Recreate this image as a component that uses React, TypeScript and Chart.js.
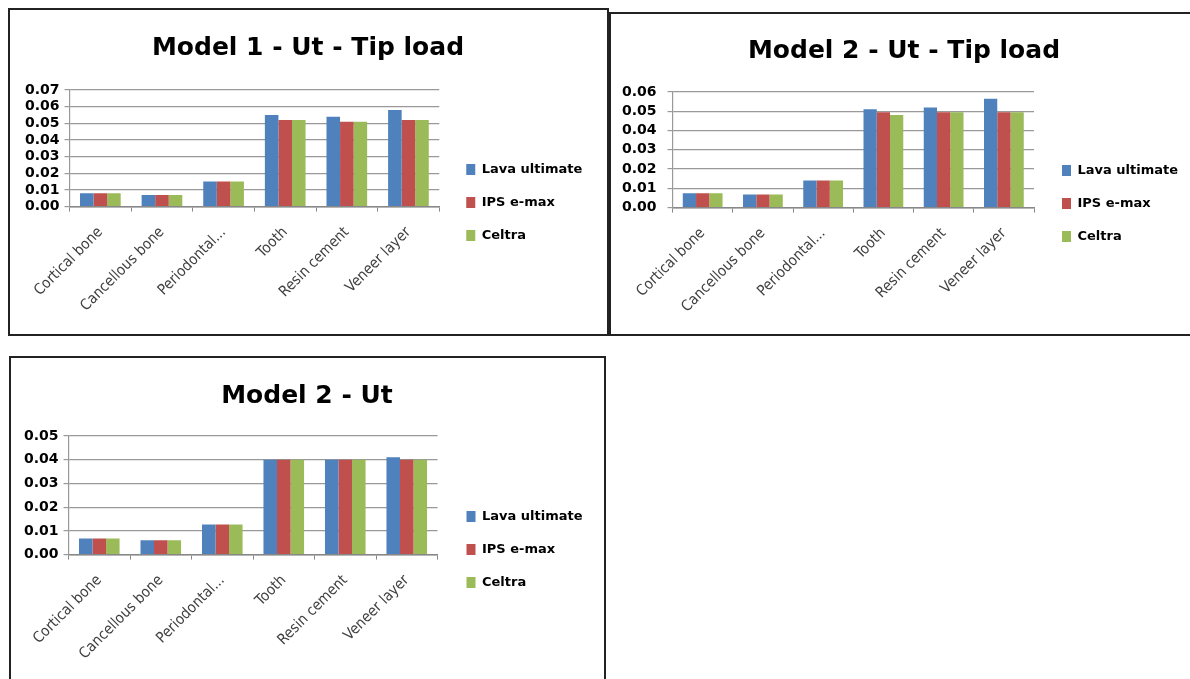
import React, { useEffect, useRef } from "react";
import { Chart, registerables } from "chart.js";

Chart.register(...registerables);

const categories = ["Cortical bone", "Cancellous bone", "Periodontal...", "Tooth", "Resin cement", "Veneer layer"];
const seriesNames = ["Lava ultimate", "IPS e-max", "Celtra"];
const seriesColors = ["#4F81BD", "#C0504D", "#9BBB59"];

const m1TipLava = [0.008, 0.007, 0.015, 0.055, 0.054, 0.058];
const m1TipIps = [0.008, 0.007, 0.015, 0.052, 0.051, 0.052];
const m1TipCeltra = [0.008, 0.007, 0.015, 0.052, 0.051, 0.052];

const m2TipLava = [0.0075, 0.0068, 0.014, 0.051, 0.052, 0.0565];
const m2TipIps = [0.0075, 0.0068, 0.014, 0.0495, 0.0495, 0.0495];
const m2TipCeltra = [0.0075, 0.0068, 0.014, 0.048, 0.0495, 0.0495];

const m2UtLava = [0.0068, 0.006, 0.0127, 0.04, 0.04, 0.041];
const m2UtIps = [0.0068, 0.006, 0.0127, 0.04, 0.04, 0.04];
const m2UtCeltra = [0.0068, 0.006, 0.0127, 0.04, 0.04, 0.04];

const FONT_C = "'DejaVu Sans Condensed', 'DejaVu Sans', sans-serif";
const FONT_B = "'DejaVu Sans', sans-serif";

const boxShift = {
  id: "boxShift",
  afterLayout(chart: any, _args: any, opts: any) {
    const l = chart.legend;
    if (l && opts && opts.legend) {
      l.left += opts.legend;
      l.right += opts.legend;
    }
    const t = chart.titleBlock;
    if (t && opts && opts.title) {
      t.left += opts.title;
      t.right += opts.title;
    }
  },
};

type BoxProps = {
  left: number;
  top: number;
  width: number;
  height: number;
  title: string;
  yMax: number;
  series: number[][];
  padLeft: number;
  padRight: number;
  padBottom: number;
  titleTop: number;
  titleBottom: number;
  titleShift: number;
  legendGap: number;
  legendTop: number;
  yPad: number;
};

function ChartBox(p: BoxProps) {
  const ref = useRef<HTMLCanvasElement | null>(null);
  useEffect(() => {
    if (!ref.current) return;
    const chart = new Chart(ref.current, {
      type: "bar",
      data: {
        labels: categories,
        datasets: p.series.map((d, i) => ({
          label: seriesNames[i],
          data: d,
          backgroundColor: seriesColors[i],
          borderWidth: 0,
          categoryPercentage: 0.66,
          barPercentage: 1,
        })),
      },
      plugins: [boxShift],
      options: {
        responsive: false,
        animation: false,
        layout: { padding: { left: p.padLeft, right: p.padRight, bottom: p.padBottom, top: 0 } },
        plugins: {
          boxShift: { legend: p.legendGap, title: p.titleShift },
          title: {
            display: true,
            text: p.title,
            color: "#000",
            font: { family: FONT_B, size: 25, weight: "bold" },
            padding: { top: p.titleTop, bottom: p.titleBottom },
          },
          legend: {
            display: true,
            position: "right",
            align: "start",
            title: {
              display: true,
              text: "",
              font: { size: 1, lineHeight: 1 },
              padding: { top: p.legendTop, bottom: 0 },
            },
            labels: {
              boxWidth: 9,
              boxHeight: 11,
              padding: 20,
              color: "#000",
              font: { family: FONT_B, size: 13, weight: "bold" },
            },
          },
          tooltip: { enabled: false },
        },
        scales: {
          x: {
            grid: {
              offset: true,
              drawOnChartArea: false,
              drawTicks: true,
              tickLength: 5,
              color: "#888",
            },
            border: { color: "#888", width: 1.5 },
            ticks: {
              minRotation: 45,
              maxRotation: 45,
              color: "#404040",
              padding: 12,
              font: { family: FONT_C, size: 15 },
            },
          },
          y: {
            min: 0,
            max: p.yMax,
            grid: { color: "#999", lineWidth: 1.2, tickLength: 5, drawTicks: true },
            border: { color: "#999", width: 1.2 },
            ticks: {
              stepSize: 0.01,
              autoSkip: false,
              color: "#000",
              padding: p.yPad,
              font: { family: FONT_B, size: 14, weight: "bold", lineHeight: 1 },
              callback: (v: any) => Number(v).toFixed(2),
            },
          },
        },
      } as any,
    });
    return () => chart.destroy();
  }, []);
  return (
    <div
      style={{
        position: "absolute",
        left: p.left,
        top: p.top,
        width: p.width,
        height: p.height,
        border: "2px solid #222",
        background: "#fff",
      }}
    >
      <canvas ref={ref} width={p.width} height={p.height} style={{ display: "block" }} />
    </div>
  );
}

export default function App() {
  useEffect(() => {
    document.body.style.margin = "0";
  }, []);
  return (
    <div style={{ position: "relative", width: 1190, height: 679, overflow: "hidden", background: "#fff" }}>
      <ChartBox
        left={8}
        top={8}
        width={597}
        height={324}
        title="Model 1 - Ut - Tip load"
        yMax={0.07}
        series={[m1TipLava, m1TipIps, m1TipCeltra]}
        padLeft={10}
        padRight={28}
        padBottom={7}
        titleTop={23}
        titleBottom={27}
        titleShift={8.5}
        legendGap={7}
        legendTop={132}
        yPad={5}
      />
      <ChartBox
        left={609}
        top={12}
        width={590}
        height={320}
        title="Model 2 - Ut - Tip load"
        yMax={0.06}
        series={[m2TipLava, m2TipIps, m2TipCeltra]}
        padLeft={0}
        padRight={26}
        padBottom={6}
        titleTop={22}
        titleBottom={26}
        titleShift={11}
        legendGap={8}
        legendTop={129}
        yPad={11}
      />
      <ChartBox
        left={9}
        top={356}
        width={593}
        height={324}
        title="Model 2 - Ut"
        yMax={0.05}
        series={[m2UtLava, m2UtIps, m2UtCeltra]}
        padLeft={8}
        padRight={27}
        padBottom={7}
        titleTop={23}
        titleBottom={25}
        titleShift={9}
        legendGap={9}
        legendTop={131}
        yPad={5}
      />
    </div>
  );
}
